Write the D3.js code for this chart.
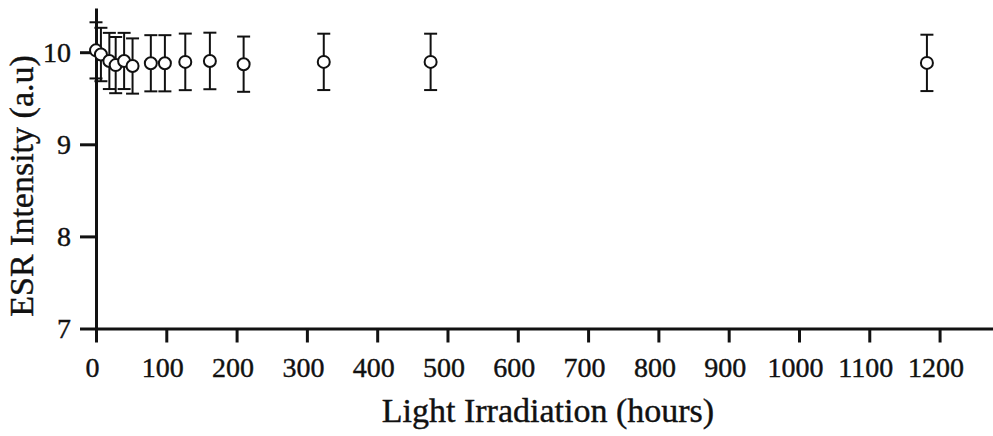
<!DOCTYPE html>
<html lang="en">
<meta charset="utf-8">
<title>ESR Intensity vs Light Irradiation</title>
<style>
  body { margin: 0; background: #fff; }
  svg { display: block; }
  svg text { font-family: "Liberation Serif", "Times New Roman", "Tinos", serif !important; fill: #111; stroke: #111; stroke-width: 0.4px; }
  .axis path, .axis line { stroke: #111; stroke-width: 3px; }
</style>
<body>
<div id="chart"></div>
<script src="https://cdn.jsdelivr.net/npm/d3@7"></script>
<script>
  // data
  const hours     = [0, 7, 19, 28, 40, 52, 78, 98, 127, 162, 210, 324, 476, 1182];
  const intensity = [10.02, 9.975, 9.905, 9.86, 9.905, 9.85, 9.88, 9.88, 9.895, 9.905, 9.87, 9.895, 9.895, 9.884];
  const errors    = [0.305, 0.29, 0.305, 0.305, 0.305, 0.3, 0.305, 0.305, 0.307, 0.307, 0.3, 0.306, 0.306, 0.306];
  const xTickValues = [0, 100, 200, 300, 400, 500, 600, 700, 800, 900, 1000, 1100, 1200];
  const yTickValues = [7, 8, 9, 10];

  const W = 993, H = 436;
  const svg = d3.select("#chart").append("svg").attr("width", W).attr("height", H);

  const x = d3.scaleLinear().domain([0, 1276]).range([96, 993]);
  const y = d3.scaleLinear().domain([7, 10.48]).range([328.5, 8]);

  // x axis
  const xAxis = svg.append("g").attr("class", "axis")
    .attr("transform", "translate(0," + y(7) + ")")
    .call(d3.axisBottom(x).tickValues(xTickValues).tickFormat(d3.format("d"))
      .tickSize(14).tickPadding(15).tickSizeOuter(0));
  xAxis.selectAll("text").attr("font-size", 28).attr("dx", -4);

  // y axis
  const yAxis = svg.append("g").attr("class", "axis")
    .attr("transform", "translate(" + x(0) + ",0)")
    .call(d3.axisLeft(y).tickValues(yTickValues).tickFormat(d3.format("d"))
      .tickSize(16).tickPadding(9).tickSizeOuter(0));
  yAxis.selectAll("text").attr("font-size", 28);

  // error bars
  const pts = hours.map((h, i) => ({ h: h, v: intensity[i], e: errors[i] }));
  const bars = svg.append("g").attr("stroke", "#111").attr("stroke-width", 2);
  bars.selectAll("line.v").data(pts).join("line")
    .attr("x1", d => x(d.h)).attr("x2", d => x(d.h))
    .attr("y1", d => y(d.v + d.e)).attr("y2", d => y(d.v - d.e));
  bars.selectAll("line.top").data(pts).join("line").attr("class", "top")
    .attr("x1", d => x(d.h) - 6.5).attr("x2", d => x(d.h) + 6.5)
    .attr("y1", d => y(d.v + d.e)).attr("y2", d => y(d.v + d.e));
  bars.selectAll("line.bot").data(pts).join("line").attr("class", "bot")
    .attr("x1", d => x(d.h) - 6.5).attr("x2", d => x(d.h) + 6.5)
    .attr("y1", d => y(d.v - d.e)).attr("y2", d => y(d.v - d.e));

  // markers
  svg.append("g").selectAll("circle").data(pts).join("circle")
    .attr("cx", d => x(d.h)).attr("cy", d => y(d.v)).attr("r", 6)
    .attr("fill", "#fff").attr("stroke", "#111").attr("stroke-width", 2);

  // titles
  svg.append("text")
    .attr("x", 548).attr("y", 422)
    .attr("text-anchor", "middle")
    .attr("font-size", 34)
    .text("Light Irradiation (hours)");
  svg.append("text")
    .attr("transform", "translate(33,186) rotate(-90)")
    .attr("text-anchor", "middle")
    .attr("font-size", 34)
    .text("ESR Intensity (a.u)");
</script>
</body>
</html>
